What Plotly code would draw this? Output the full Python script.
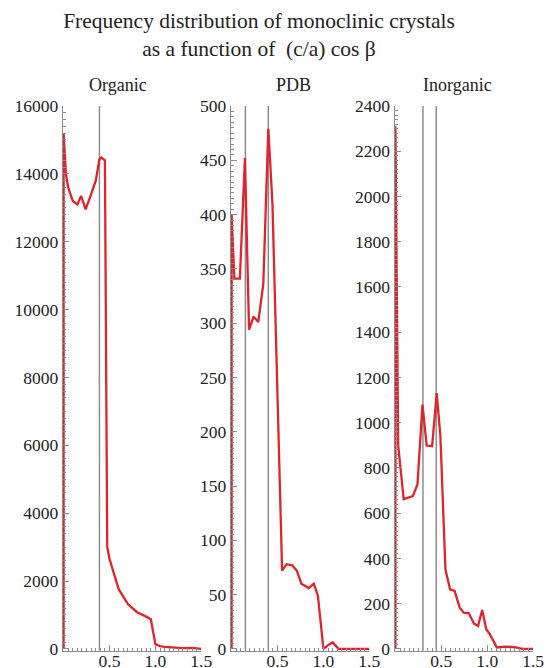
import plotly.graph_objects as go

# (c/a) cos beta histogram for each crystal family
organic_x = [0, 0, 0.025, 0.05, 0.1, 0.15, 0.19, 0.24, 0.3, 0.35, 0.39, 0.41, 0.45, 0.475,
             0.5, 0.53, 0.6, 0.7, 0.8, 0.9, 0.95, 1.0, 1.05, 1.1, 1.2, 1.3, 1.4, 1.45, 1.5]
organic_y = [0, 15200, 14000, 13600, 13200, 13100, 13350, 12950, 13400, 13800, 14430, 14480, 14400, 3000,
             2650, 2400, 1760, 1320, 1080, 950, 875, 140, 80, 60, 40, 20, 30, 10, 0]

pdb_x = [0, 0, 0.03, 0.09, 0.145, 0.19, 0.24, 0.29, 0.345, 0.40, 0.445,
         0.55, 0.6, 0.66, 0.71, 0.76, 0.84, 0.895, 0.94, 1.0, 1.045, 1.1, 1.165, 1.3, 1.5]
pdb_y = [0, 400, 341, 341, 452, 294, 306, 301, 336, 479, 410,
         72, 78, 77, 72, 60, 56, 60, 49, 0, 3, 6, 0, 0, 0]

inorganic_x = [0, 0, 0.03, 0.09, 0.19, 0.24, 0.295, 0.34, 0.40, 0.45, 0.49,
               0.545, 0.595, 0.645, 0.70, 0.745, 0.80, 0.855, 0.90, 0.945, 0.99, 1.03,
               1.105, 1.2, 1.3, 1.38, 1.5]
inorganic_y = [0, 2310, 900, 662, 675, 727, 1080, 899, 896, 1131, 940,
               351, 263, 256, 182, 160, 157, 112, 101, 172, 87, 64,
               6, 10, 8, 0, 0]

panel_names = ["Organic", "PDB", "Inorganic"]
panel_series = [(organic_x, organic_y), (pdb_x, pdb_y), (inorganic_x, inorganic_y)]
reference_lines = [[0.39], [0.15, 0.40], [0.30, 0.445]]
y_max = [16000, 500, 2400]
y_major = [2000, 50, 200]
y_minor = [200, 5, 20]
x_ticks = [0.5, 1.0, 1.5]

W, H = 545, 668
panel_left = [62.7, 230.7, 394.5]
panel_width = 138.6
panel_title_center = [118, 293, 457]
plot_top, plot_bottom = 106, 650.5

RED = "#e1232b"
GREY = "#8c8c8c"
SERIF = "Liberation Serif, Times New Roman, serif"

fig = go.Figure()
layout = dict(
    width=W, height=H,
    margin=dict(l=0, r=0, t=0, b=0, autoexpand=False),
    paper_bgcolor="white", plot_bgcolor="white",
    showlegend=False,
    font=dict(family=SERIF, size=17, color="#222"),
    title=dict(
        text="Frequency distribution of monoclinic crystals<br>as a function of \u00a0(c/a) cos \u03b2",
        x=259 / W, xanchor="center", xref="paper",
        y=1 - 28 / H, yanchor="middle", yref="container",
        font=dict(family=SERIF, size=21.5, color="#222"),
    ),
)
shapes, annotations = [], []

for i, name in enumerate(panel_names):
    n = "" if i == 0 else str(i + 1)
    xa, ya = "x" + n, "y" + n
    xs, ys = panel_series[i]
    fig.add_trace(go.Scatter(x=xs, y=ys, mode="lines", xaxis=xa, yaxis=ya,
                             line=dict(color=RED, width=2.3), hoverinfo="skip"))
    for xv in reference_lines[i]:
        shapes.append(dict(type="line", xref=xa, yref=ya + " domain", x0=xv, x1=xv, y0=0, y1=1,
                           line=dict(color=GREY, width=1.5), layer="below"))
    left = panel_left[i] / W
    right = (panel_left[i] + panel_width) / W
    layout["xaxis" + n] = dict(
        domain=[left, right], anchor=ya, range=[-0.01, 1.5], automargin=False,
        tickvals=x_ticks, tickformat=".1f", ticks="inside", ticklen=6, tickwidth=1,
        tickcolor=GREY, showline=True, linecolor=GREY, linewidth=1,
        showgrid=False, zeroline=False, ticklabelstandoff=-6,
        minor=dict(dtick=0.05, tick0=0, ticks="inside", ticklen=3, tickcolor=GREY, showgrid=False),
        tickfont=dict(family=SERIF, size=17.5, color="#222"),
    )
    layout["yaxis" + n] = dict(
        domain=[1 - plot_bottom / H, 1 - plot_top / H], anchor=xa, automargin=False,
        range=[-0.003 * y_max[i], y_max[i]], dtick=y_major[i], tick0=0, tickformat="d",
        ticks="inside", ticklen=6, tickwidth=1, tickcolor=GREY,
        showline=True, linecolor=GREY, linewidth=1, showgrid=False, zeroline=False,
        minor=dict(dtick=y_minor[i], tick0=0, ticks="inside", ticklen=3, tickcolor=GREY, showgrid=False),
        tickfont=dict(family=SERIF, size=17.5, color="#222"),
    )
    annotations.append(dict(text=name, xref="paper", yref="paper",
                            x=panel_title_center[i] / W, y=1 - 85 / H,
                            xanchor="center", yanchor="middle", showarrow=False,
                            font=dict(family=SERIF, size=18, color="#222")))

layout["shapes"] = shapes
layout["annotations"] = annotations
fig.update_layout(**layout)
fig.write_html("out.html")
